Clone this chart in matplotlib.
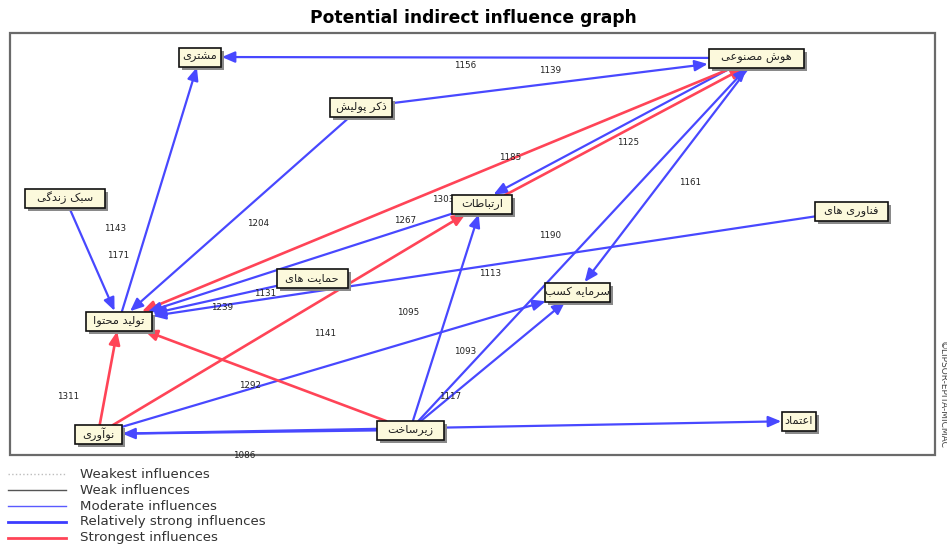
import matplotlib
matplotlib.use("Agg")
import matplotlib.pyplot as plt
from matplotlib.patches import Rectangle, FancyArrowPatch

# variables (nodes)
nodes = ["مشتری", "هوش مصنوعی", "ذکر پولیش", "سبک زندگی", "ارتباطات", "فناوری های",
         "حمایت های", "سرمایه کسب", "تولید محتوا", "نوآوری", "زیرساخت", "اعتماد"]

# influences: source, target, value, class
edge_src = ["هوش مصنوعی", "ذکر پولیش", "ذکر پولیش", "سبک زندگی", "تولید محتوا",
            "هوش مصنوعی", "ارتباطات", "هوش مصنوعی", "ارتباطات", "حمایت های",
            "فناوری های", "زیرساخت", "هوش مصنوعی", "زیرساخت", "زیرساخت",
            "نوآوری", "نوآوری", "زیرساخت", "زیرساخت", "نوآوری", "نوآوری"]
edge_dst = ["مشتری", "هوش مصنوعی", "تولید محتوا", "تولید محتوا", "مشتری",
            "ارتباطات", "هوش مصنوعی", "تولید محتوا", "تولید محتوا", "تولید محتوا",
            "تولید محتوا", "ارتباطات", "سرمایه کسب", "هوش مصنوعی", "سرمایه کسب",
            "سرمایه کسب", "ارتباطات", "تولید محتوا", "نوآوری", "تولید محتوا", "اعتماد"]
edge_val = [1156, 1139, 1204, 1143, 1171, 1303, 1125, 1185, 1267, 1131,
            1113, 1095, 1161, 1093, 1117, 1141, 1239, 1292, 1086, 1311, 1190]
edge_cls = ["rs", "rs", "rs", "rs", "rs", "rs", "st", "st", "rs", "rs",
            "rs", "rs", "rs", "rs", "rs", "rs", "st", "st", "rs", "st", "rs"]

legend_names = ["Weakest influences", "Weak influences", "Moderate influences",
                "Relatively strong influences", "Strongest influences"]

# layout (pixel coordinates of box centres and box widths)
pos = {"مشتری": (200, 57), "هوش مصنوعی": (756, 58), "ذکر پولیش": (361, 107),
       "سبک زندگی": (65, 198), "ارتباطات": (482, 204), "فناوری های": (851, 211),
       "حمایت های": (312, 278), "سرمایه کسب": (577, 292), "تولید محتوا": (119, 321),
       "نوآوری": (98, 434), "زیرساخت": (410, 430), "اعتماد": (799, 421)}
box_w = {"مشتری": 42, "هوش مصنوعی": 95, "ذکر پولیش": 62, "سبک زندگی": 80,
         "ارتباطات": 60, "فناوری های": 73, "حمایت های": 71, "سرمایه کسب": 65,
         "تولید محتوا": 66, "نوآوری": 47, "زیرساخت": 67, "اعتماد": 34}
# where each value label sits: fraction along the edge, then pixel shift
lab_t = [0.523, 0.478, 0.426, 0.244, 0.25, 1.14, 0.533, 0.386, 0.212, 0.243,
         0.493, 0.518, 0.534, 0.21, 0.24, 0.474, 0.323, 0.55, 0.53, 0.33, 0.645]
lab_dx = [0, 0, 0, 37, -21, 0, 0, 0, 0, 0, 0, -39, 30, -18, 0, 0, 0, 0, 0, -37, 0]
lab_dy = [8, -13, 25, 0, 0, -25, 16, -2, -8, 5, 8, 0, 0, 0, 0, -33, -52, 15, 23, 0, -190]

style = {"rs": ("#4848ff", 1.6), "st": ("#ff4457", 1.9)}

# presentation forms: isolated, final (, initial, medial)
FORMS = {
    "ا": "\uFE8D\uFE8E", "آ": "\uFE81\uFE82", "د": "\uFEA9\uFEAA", "ذ": "\uFEAB\uFEAC",
    "ر": "\uFEAD\uFEAE", "ز": "\uFEAF\uFEB0", "و": "\uFEED\uFEEE",
    "ب": "\uFE8F\uFE90\uFE91\uFE92", "پ": "\uFB56\uFB57\uFB58\uFB59",
    "ت": "\uFE95\uFE96\uFE97\uFE98", "ح": "\uFEA1\uFEA2\uFEA3\uFEA4",
    "خ": "\uFEA5\uFEA6\uFEA7\uFEA8", "س": "\uFEB1\uFEB2\uFEB3\uFEB4",
    "ش": "\uFEB5\uFEB6\uFEB7\uFEB8", "ص": "\uFEB9\uFEBA\uFEBB\uFEBC",
    "ط": "\uFEC1\uFEC2\uFEC3\uFEC4", "ع": "\uFEC9\uFECA\uFECB\uFECC",
    "ف": "\uFED1\uFED2\uFED3\uFED4", "\u06A9": "\uFB8E\uFB8F\uFB90\uFB91",
    "گ": "\uFB92\uFB93\uFB94\uFB95", "ل": "\uFEDD\uFEDE\uFEDF\uFEE0",
    "م": "\uFEE1\uFEE2\uFEE3\uFEE4", "ن": "\uFEE5\uFEE6\uFEE7\uFEE8",
    "ه": "\uFEE9\uFEEA\uFEEB\uFEEC", "\u06CC": "\uFBFC\uFBFD\uFBFE\uFBFF",
}


def shape(s):
    s = s.replace("\u064A", "\u06CC").replace("\u0643", "\u06A9")
    out = []
    for i, c in enumerate(s):
        if c not in FORMS:
            out.append(c)
            continue
        prev = s[i - 1] if i > 0 else ""
        nxt = s[i + 1] if i + 1 < len(s) else ""
        a = prev in FORMS and len(FORMS[prev]) == 4
        b = nxt in FORMS and len(FORMS[c]) == 4
        f = FORMS[c]
        if a and b:
            out.append(f[3])
        elif a:
            out.append(f[1])
        elif b:
            out.append(f[2])
        else:
            out.append(f[0])
    return "".join(reversed(out))


fig = plt.figure(figsize=(9.47, 5.47), dpi=100)
ax = fig.add_axes([0, 0, 1, 1])
ax.set_xlim(0, 947)
ax.set_ylim(547, 0)
ax.axis("off")

ax.text(473, 18, "Potential indirect influence graph", ha="center", va="center",
        fontsize=12.3, fontweight="bold")
ax.add_patch(Rectangle((10, 33), 925, 422, fill=False, ec="#6a6a6a", lw=1.6, zorder=1))
ax.text(942, 395, "©LIPSOR-EPITA-MICMAC", rotation=-90, ha="center", va="center",
        fontsize=6.5, color="#444444")

# boxes
bh = 19
rects = {}
for n in nodes:
    x, y = pos[n]
    w = box_w[n]
    ax.add_patch(Rectangle((x - w / 2 + 3, y - bh / 2 + 3), w, bh, fc="#8a8a8a",
                           ec="none", zorder=4))
    r = Rectangle((x - w / 2, y - bh / 2), w, bh, fc="#fcf9dc", ec="#111111",
                  lw=1.2, zorder=5)
    ax.add_patch(r)
    rects[n] = r
    ax.text(x, y, shape(n), ha="center", va="center", fontsize=8.2, color="#222222",
            family="DejaVu Sans", zorder=6)

# edges
pairs = set(zip(edge_src, edge_dst))
for i in range(len(edge_src)):
    s, d = edge_src[i], edge_dst[i]
    (x0, y0), (x1, y1) = pos[s], pos[d]
    ox = oy = 0
    if (d, s) in pairs:
        L = ((x1 - x0) ** 2 + (y1 - y0) ** 2) ** 0.5
        ox, oy = -(y1 - y0) / L * 3, (x1 - x0) / L * 3
    col, lw = style[edge_cls[i]]
    a = FancyArrowPatch((x0 + ox, y0 + oy), (x1 + ox, y1 + oy),
                        patchA=rects[s], patchB=rects[d], shrinkA=0, shrinkB=1,
                        arrowstyle="-|>,head_length=0.7,head_width=0.3",
                        mutation_scale=11, color=col, lw=lw, zorder=2)
    ax.add_patch(a)
    t = lab_t[i]
    lx = x0 + t * (x1 - x0) + lab_dx[i]
    ly = y0 + t * (y1 - y0) + lab_dy[i]
    ax.text(lx, ly, str(edge_val[i]), ha="center", va="center", fontsize=6.3,
            color="#222222", zorder=3)

# legend
leg_style = [("#bdbdbd", 1.0, ":"), ("#555555", 1.0, "-"), ("#5a5aff", 1.0, "-"),
             ("#3c3cff", 2.0, "-"), ("#ff4457", 2.0, "-")]
for k, name in enumerate(legend_names):
    y = 474 + k * 16
    c, lw, ls = leg_style[k]
    ax.plot([8, 66], [y, y], color=c, lw=lw, ls=ls)
    ax.text(80, y, name, ha="left", va="center", fontsize=9.6, color="#333333")

fig.savefig("out.png", dpi=100)
